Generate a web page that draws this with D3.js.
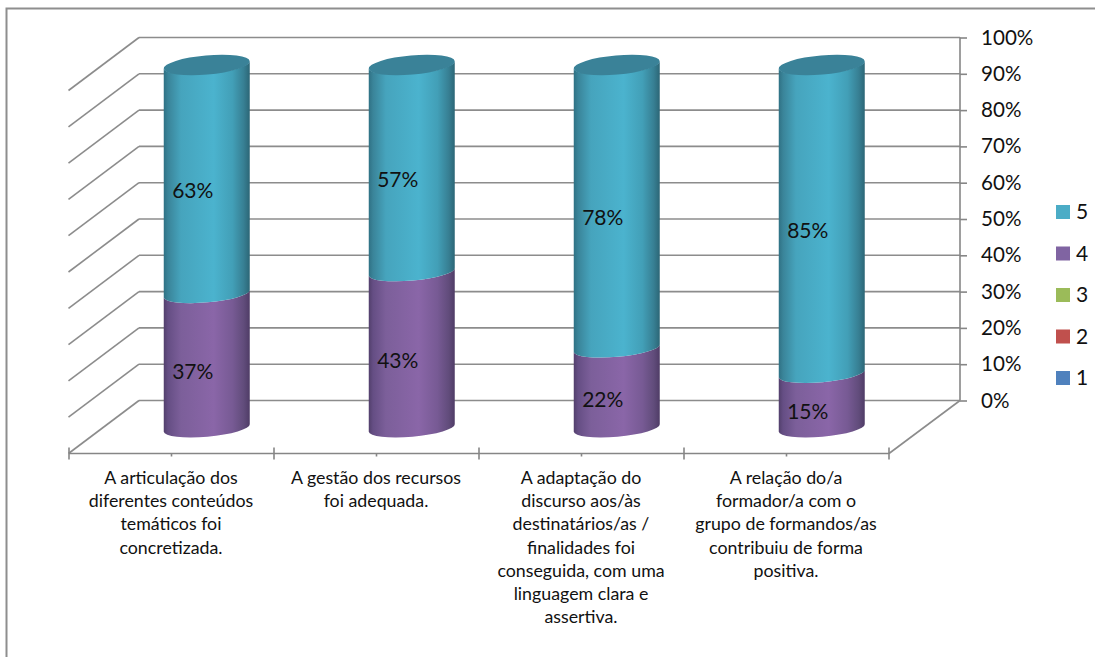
<!DOCTYPE html>
<html lang="pt">
<head>
  <meta charset="UTF-8">
  <title>Avaliação</title>
  <style>
    html, body { margin: 0; padding: 0; background: #fff; }
    svg { display: block; }
    text { font-family: Lato, "Open Sans", sans-serif; fill: #111; }
    .axis path, .axis line { stroke: #868686; stroke-width: 1.6; fill: none; }
    .axis text { font-size: 20.6px; font-family: Lato, "Open Sans", sans-serif; fill: #111; }
    .grid line { stroke: #8c8c8c; stroke-width: 1.6; }
    .cat text { font-size: 17.8px; }
    .value { font-size: 21px; }
    .legend text { font-size: 21px; }
  </style>
</head>
<body>
<svg id="chart" width="1095" height="657"></svg>
<script src="https://d3js.org/d3.v7.min.js"></script>
<script>
// data
const categories = ["c1", "c2", "c3", "c4"];
const categoryLines = [
  ["A articulação dos", "diferentes conteúdos", "temáticos foi", "concretizada."],
  ["A gestão dos recursos", "foi adequada."],
  ["A adaptação do", "discurso aos/às", "destinatários/as /", "finalidades foi", "conseguida, com uma", "linguagem clara e", "assertiva."],
  ["A relação do/a", "formador/a com o", "grupo de formandos/as", "contribuiu de forma", "positiva."]
];
const series4 = [0.37, 0.43, 0.22, 0.15];
const series5 = [0.63, 0.57, 0.78, 0.85];
const yTicks = [0, 0.1, 0.2, 0.3, 0.4, 0.5, 0.6, 0.7, 0.8, 0.9, 1];
const legendNames = ["5", "4", "3", "2", "1"];
const legendColors = ["#4bacc6", "#8064a2", "#9bbb59", "#c0504d", "#4f81bd"];

const svg = d3.select("#chart");

// chart frame, only top and left show
svg.append("path")
  .attr("d", "M6.5,657V8.5H1095")
  .attr("fill", "none")
  .attr("stroke", "#8e8e8e")
  .attr("stroke-width", 2);

// back wall scales, front edge sits at depthX / depthY from the wall
const depthX = -70.5, depthY = 53;
const y = d3.scaleLinear().domain([0, 1]).range([400.5, 37.5]);
const x = d3.scaleBand().domain(categories).range([69, 889]);

// gradients for the cylinders
const defs = svg.append("defs");
function addGradient(id, stops) {
  const g = defs.append("linearGradient").attr("id", id);
  stops.forEach(s => g.append("stop").attr("offset", s[0]).attr("stop-color", s[1]));
}
addGradient("teal", [[0, "#2f7184"], [0.05, "#3a8499"], [0.2, "#46a4bd"], [0.58, "#4bb3ce"], [0.8, "#429fb7"], [0.93, "#377f93"], [1, "#2c6676"]]);
addGradient("purple", [[0, "#523f6c"], [0.05, "#654e84"], [0.2, "#7c5f9a"], [0.58, "#8a66a8"], [0.8, "#775a94"], [0.93, "#614c7b"], [1, "#4f3c66"]]);

// gridlines on back wall and side wall
const grid = svg.append("g").attr("class", "grid");
grid.selectAll(".back").data(yTicks).join("line")
  .attr("class", "back")
  .attr("x1", 139).attr("x2", 960)
  .attr("y1", d => y(d)).attr("y2", d => y(d));
grid.selectAll(".side").data(yTicks).join("line")
  .attr("class", "side")
  .attr("x1", 139).attr("x2", 139 + depthX)
  .attr("y1", d => y(d)).attr("y2", d => y(d) + depthY);
// floor edge on the right
grid.append("line")
  .attr("x1", 960).attr("y1", y(0))
  .attr("x2", 889).attr("y2", y(0) + depthY);

// value axis on the right of the wall
const yAxis = d3.axisRight(y)
  .tickValues(yTicks)
  .tickSize(7)
  .tickPadding(14)
  .tickFormat(d3.format(".0%"));
svg.append("g")
  .attr("class", "axis")
  .attr("transform", "translate(960,0)")
  .call(yAxis)
  .call(g => g.select(".domain").attr("d", `M0,${y(1)}V${y(0)}`));

// category axis along the front edge
const frontY = y(0) + depthY;
const catAxis = svg.append("g").attr("class", "axis");
catAxis.append("line")
  .attr("x1", x.range()[0]).attr("x2", x.range()[1])
  .attr("y1", frontY).attr("y2", frontY);
catAxis.selectAll(".major").data(d3.range(categories.length + 1)).join("line")
  .attr("class", "major")
  .attr("x1", i => x.range()[0] + i * x.step())
  .attr("x2", i => x.range()[0] + i * x.step())
  .attr("y1", frontY - 6).attr("y2", frontY + 6);
catAxis.selectAll(".minor").data(categories).join("line")
  .attr("class", "minor")
  .attr("x1", d => x(d) + x.bandwidth() / 2)
  .attr("x2", d => x(d) + x.bandwidth() / 2)
  .attr("y1", frontY).attr("y2", frontY + 3);

// cylinders stand half way into the depth
const halfW = 43, tilt = 3.8, ry = 8.7, capRy = 9.6;
const cx = d => x(d) + x.bandwidth() / 2 - depthX / 2;
const by = v => y(v) + depthY / 2 + 1;
const arcR = Math.hypot(halfW, tilt);
const arcRot = -Math.atan2(tilt, halfW) * 180 / Math.PI;

function segment(c, v0, v1) {
  const l = cx(c) - halfW, r = cx(c) + halfW;
  return `M${l},${by(v1) + tilt}L${l},${by(v0) + tilt}` +
    `A${arcR},${ry} ${arcRot} 0 0 ${r},${by(v0) - tilt}` +
    `L${r},${by(v1) - tilt}` +
    `A${arcR},${ry} ${arcRot} 0 1 ${l},${by(v1) + tilt}Z`;
}

const bars = svg.append("g");
bars.selectAll(".s4").data(categories).join("path")
  .attr("class", "s4")
  .attr("fill", "url(#purple)")
  .attr("d", (c, i) => segment(c, 0, series4[i]));
bars.selectAll(".s5").data(categories).join("path")
  .attr("class", "s5")
  .attr("fill", "url(#teal)")
  .attr("d", (c, i) => segment(c, series4[i], series4[i] + series5[i]));
bars.selectAll(".cap").data(categories).join("ellipse")
  .attr("class", "cap")
  .attr("fill", "#3a8298")
  .attr("rx", arcR).attr("ry", capRy)
  .attr("transform", (c, i) => `translate(${cx(c)},${by(series4[i] + series5[i])}) rotate(${arcRot})`);

// value labels
const labels = svg.append("g");
function addValues(values, mid) {
  labels.selectAll(null).data(categories).join("text")
    .attr("class", "value")
    .attr("text-anchor", "middle")
    .attr("x", c => cx(c) - 14)
    .attr("y", (c, i) => by(mid(i)) + 18.5)
    .text((c, i) => d3.format(".0%")(values[i]));
}
addValues(series4, i => series4[i] / 2);
addValues(series5, i => series4[i] + series5[i] / 2);

// category labels
const cat = svg.append("g").attr("class", "cat");
categories.forEach((c, i) => {
  cat.append("text")
    .attr("text-anchor", "middle")
    .attr("y", 484)
    .selectAll("tspan").data(categoryLines[i]).join("tspan")
    .attr("x", x(c) + x.bandwidth() / 2 - 0.5)
    .attr("dy", (d, j) => j ? 23.2 : 0)
    .text(d => d);
});

// legend
const legendY = d3.scalePoint().domain(legendNames).range([212, 378]);
const legend = svg.append("g").attr("class", "legend");
legend.selectAll("rect").data(legendNames).join("rect")
  .attr("x", 1056)
  .attr("y", d => legendY(d) - 7)
  .attr("width", 14).attr("height", 14)
  .attr("fill", (d, i) => legendColors[i]);
legend.selectAll("text").data(legendNames).join("text")
  .attr("x", 1076)
  .attr("y", d => legendY(d) + 7)
  .text(d => d);
</script>
</body>
</html>
